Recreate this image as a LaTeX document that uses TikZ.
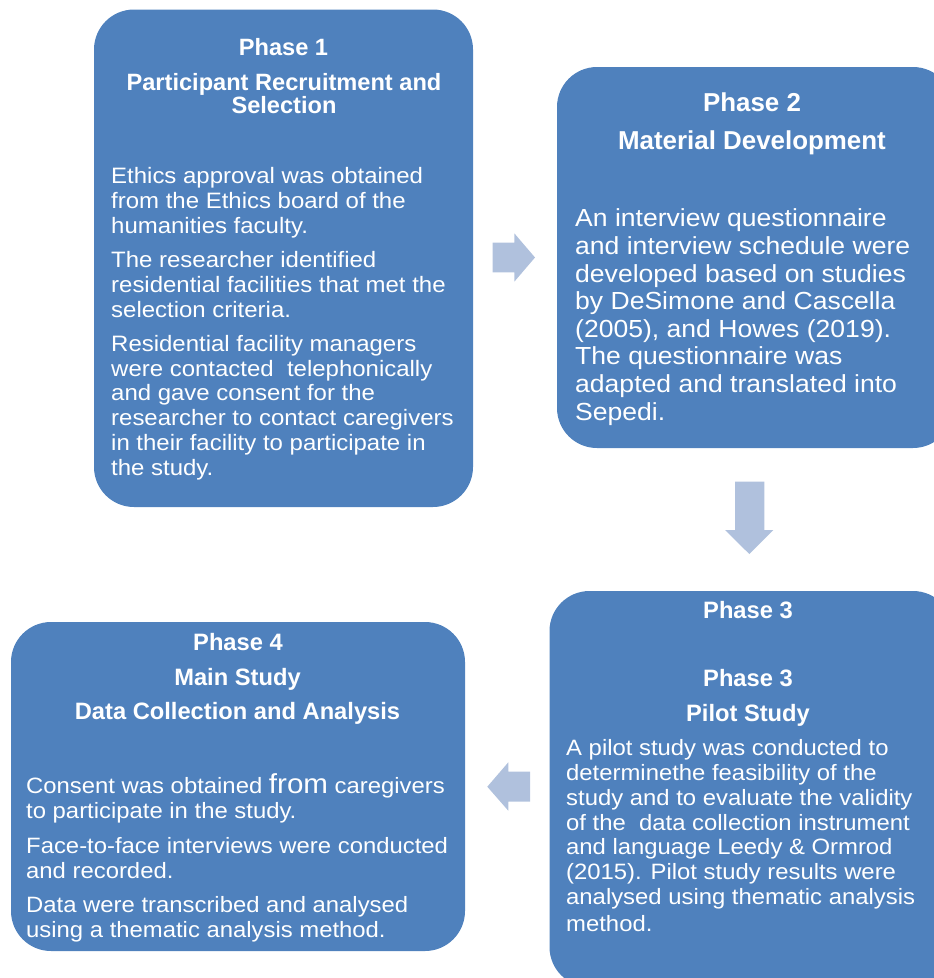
\documentclass[tikz,border=0pt]{standalone}
\usepackage{fontspec}
\setmainfont{Liberation Sans}
\newfontfamily\bodyfam[FakeStretch=1.075]{Liberation Sans}
\definecolor{boxblue}{HTML}{4F81BD}
\definecolor{arrowblue}{HTML}{B0C1DD}
\newcommand\fstrut{\rule{0pt}{22pt}}
\begin{document}
\begin{tikzpicture}[x=1pt,y=-1pt,
  phasebox/.style={rectangle, rounded corners=40pt, fill=boxblue, draw=none, inner sep=0pt},
  headtxt/.style={anchor=base, text=white, inner sep=0pt, font=\bfseries\fontsize{#1}{#1}\selectfont},
  bodytxt/.style={anchor=north west, inner sep=0pt, align=left, text=white},
  blockarrow/.style={fill=arrowblue, draw=none}]
\useasboundingbox (0,0) rectangle (934,978);
\clip (0,0) rectangle (934,978);
% boxes
\node[phasebox, minimum width=379pt, minimum height=497.5pt] (p1) at (283.5,258.25) {};
\node[phasebox, minimum width=396pt, minimum height=381pt] (p2) at (755,257.5) {};
\node[phasebox, minimum width=403.5pt, minimum height=396pt] (p3) at (751.25,789) {};
\node[phasebox, minimum width=454pt, minimum height=329pt] (p4) at (238,786.5) {};
% block arrows
\fill[blockarrow] (492.7,242.7) -- (514.3,242.7) -- (514.3,233.3) -- (535,257.5) -- (514.3,281.7) -- (514.3,272.3) -- (492.7,272.3) -- cycle;
\fill[blockarrow] (735,481.7) -- (764.3,481.7) -- (764.3,530) -- (773.3,530) -- (749.3,554) -- (725,530) -- (735,530) -- cycle;
\fill[blockarrow] (530,771.7) -- (508.3,771.7) -- (508.3,762.3) -- (487.3,786.7) -- (508.3,810.7) -- (508.3,801.7) -- (530,801.7) -- cycle;
% Phase 1
\node[headtxt=23.6] (h1a) at (283.5,55) {Phase 1};
\node[headtxt=23.6] (h1b) at (284,90) {Participant Recruitment and};
\node[headtxt=23.6] (h1c) at (284,113) {Selection};
\node[bodytxt, font=\bodyfam\fontsize{22.3}{24.7}\selectfont] (b1) at (111,161.5) {\fstrut Ethics approval was obtained\\
from the Ethics board of the\\
humanities faculty.\\[9.8pt]
The researcher identified\\
residential facilities that met the\\
selection criteria.\\[9.8pt]
Residential facility managers\\
were contacted~ telephonically\\
and gave consent for the\\
researcher to contact caregivers\\
in their facility to participate in\\
the study.};
% Phase 2
\node[headtxt=25.9] (h2a) at (752,111.7) {Phase 2};
\node[headtxt=25.9] (h2b) at (752,149.5) {Material Development};
\node[bodytxt, font=\bodyfam\fontsize{24.7}{27.6}\selectfont] (b2) at (575,204.7) {\fstrut An interview questionnaire\\
and interview schedule were\\
developed based on studies\\
by DeSimone and Cascella\\
(2005), and Howes (2019).\\
The questionnaire was\\
adapted and translated into\\
Sepedi.};
% Phase 3
\node[headtxt=23.7] (h3a) at (748,618.3) {Phase 3};
\node[headtxt=23.7] (h3b) at (748,686.7) {Phase 3};
\node[headtxt=23.7] (h3c) at (748,721.7) {Pilot Study};
\node[bodytxt, font=\bodyfam\fontsize{22.2}{24.8}\selectfont] (b3) at (566,733.5) {\fstrut A pilot study was conducted to\\
determinethe feasibility of the\\
study and to evaluate the validity\\
of the~ data collection instrument\\
and language Leedy \& Ormrod\\
(2015). Pilot study results were\\
analysed using thematic analysis\\[2pt]
method.};
% Phase 4
\node[headtxt=23.7] (h4a) at (238,650) {Phase 4};
\node[headtxt=23.7] (h4b) at (237.5,685) {Main Study};
\node[headtxt=23.7] (h4c) at (237.5,719) {Data Collection and Analysis};
\node[bodytxt, font=\bodyfam\fontsize{22.2}{25}\selectfont] (b4) at (26,771.3) {\fstrut Consent was obtained {\fontsize{27.5}{25}\selectfont from} caregivers\\
to participate in the study.\\[9.5pt]
Face-to-face interviews were conducted\\
and recorded.\\[9.5pt]
Data were transcribed and analysed\\
using a thematic analysis method.};
\end{tikzpicture}
\end{document}
